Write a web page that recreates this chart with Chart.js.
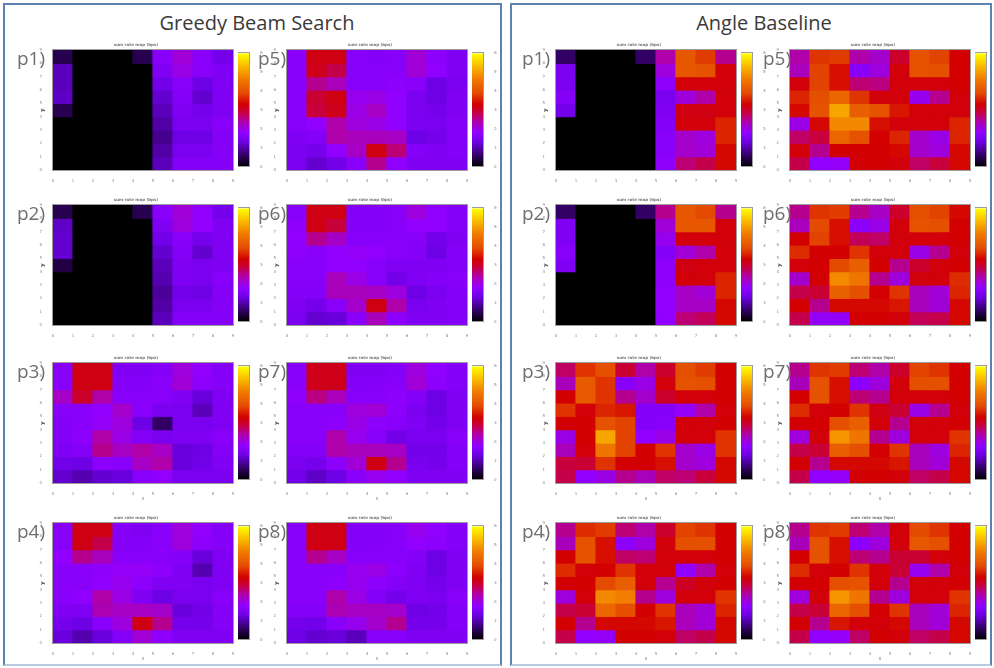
<!DOCTYPE html>
<html><head><meta charset="utf-8">
<script src="https://cdn.jsdelivr.net/npm/chart.js@4.4.0/dist/chart.umd.min.js"></script>
<style>
body{margin:0;background:#fff;width:994px;height:668px;overflow:hidden;position:relative;font-family:"Open Sans",sans-serif}
.panel{position:absolute;border:2px solid #5b83b0;border-bottom-color:#b9cbe0;box-sizing:border-box}
.ptitle{position:absolute;font-size:20px;line-height:24px;color:#3a3a3a;white-space:nowrap;transform:translateX(-50%)}
.plab{position:absolute;font-size:19px;line-height:19px;color:#6e6e6e;z-index:5;white-space:nowrap}
canvas{position:absolute}
</style></head><body>
<div class="panel" style="left:3px;top:3px;width:499px;height:663px"></div>
<div class="panel" style="left:510px;top:3px;width:482px;height:663px"></div>
<div class="ptitle" style="left:257px;top:11px">Greedy Beam Search</div>
<div class="ptitle" style="left:764px;top:11px">Angle Baseline</div>
<script>
// ---- data (values as % of colour-bar maximum), rows listed top to bottom ----
const xTicks = ['0','1','2','3','4','5','6','7','8','9'];
const yTicks = ['0','1','2','3','4','5','6','7','8','9'];
const cbTicks = ['0','1000','2000','3000','4000','5000','6000'];
const panelTitles = ['Greedy Beam Search','Angle Baseline'];
const plotLabels = ['p1)','p2)','p3)','p4)','p5)','p6)','p7)','p8)'];
const mapTitle = 'sum rate map (bps)';

const greedyP1 = [
 [8,0,0,0,8,28,35,28,24],
 [18,0,0,0,0,26,33,28,26],
 [18,0,0,0,0,23,28,22,26],
 [19,0,0,0,0,20,27,20,26],
 [8,0,0,0,0,18,26,24,26],
 [0,0,0,0,0,16,25,25,28],
 [0,0,0,0,0,14,22,22,27],
 [0,0,0,0,0,16,25,25,27],
 [0,0,0,0,0,18,27,27,27]];
const greedyP2 = [
 [8,0,0,0,8,28,35,30,24],
 [19,0,0,0,0,26,34,30,26],
 [20,0,0,0,0,23,28,24,26],
 [20,0,0,0,0,20,27,20,26],
 [7,0,0,0,0,18,26,25,26],
 [0,0,0,0,0,17,26,25,28],
 [0,0,0,0,0,15,23,22,27],
 [0,0,0,0,0,16,25,25,27],
 [0,0,0,0,0,18,27,27,27]];
const greedyP3 = [
 [28,53,53,26,26,27,34,30,27],
 [28,53,53,27,27,28,35,29,27],
 [37,50,40,28,28,28,26,21,26],
 [28,28,30,36,28,25,25,18,26],
 [27,28,31,34,22,10,25,25,26],
 [27,29,40,33,27,25,26,26,28],
 [26,27,42,37,40,37,21,22,27],
 [23,22,29,28,37,40,21,23,26],
 [20,17,20,21,28,30,25,25,25]];
const greedyP4 = [
 [28,53,53,27,26,28,34,30,27],
 [28,53,47,27,27,28,34,29,27],
 [30,42,38,28,28,28,27,21,26],
 [28,28,29,31,31,29,26,17,26],
 [28,28,30,32,29,26,26,25,26],
 [28,30,40,33,26,22,25,25,28],
 [26,26,39,37,37,36,21,23,27],
 [24,22,28,34,53,42,24,24,27],
 [21,17,21,27,35,29,26,26,26]];
const greedyP5 = [
 [28,53,53,28,27,28,35,29,26],
 [28,52,47,28,28,28,35,30,26],
 [28,42,38,28,28,29,28,22,25],
 [28,49,53,32,33,30,25,22,26],
 [28,48,52,33,37,30,25,24,26],
 [28,30,40,34,33,30,25,25,27],
 [26,27,40,38,38,37,22,24,27],
 [25,24,30,37,53,44,27,26,27],
 [25,20,23,28,42,30,26,26,26]];
const greedyP6 = [
 [28,53,53,27,27,28,34,30,27],
 [29,53,48,27,27,28,30,30,27],
 [30,42,37,28,28,28,28,23,26],
 [29,28,30,31,30,28,27,22,27],
 [28,28,30,30,28,26,26,26,27],
 [28,28,38,33,28,23,26,27,28],
 [27,27,38,38,37,34,22,25,27],
 [26,24,28,36,53,40,25,26,27],
 [25,20,21,28,38,29,26,26,27]];
const greedyP7 = [
 [28,52,52,26,26,27,34,30,27],
 [28,52,52,27,27,28,35,29,27],
 [29,43,38,28,28,29,27,22,26],
 [28,28,28,34,35,29,25,22,26],
 [28,28,29,33,29,28,26,23,26],
 [28,28,40,32,28,23,25,25,28],
 [27,27,40,38,38,37,23,23,27],
 [25,24,29,35,53,42,25,24,27],
 [23,19,22,28,32,30,26,26,26]];
const greedyP8 = [
 [28,53,53,27,27,28,32,30,27],
 [28,53,53,27,27,28,30,29,27],
 [28,42,37,28,28,28,27,22,26],
 [28,28,28,32,33,29,26,22,26],
 [28,28,29,32,29,27,26,24,26],
 [28,28,40,33,27,24,26,25,28],
 [27,27,39,37,37,36,22,23,27],
 [24,23,28,32,36,42,24,24,27],
 [22,20,21,18,28,28,26,26,26]];

const angleP1 = [
 [10,0,0,0,10,40,68,63,42],
 [25,0,0,0,0,34,68,67,54],
 [25,0,0,0,0,29,54,54,54],
 [27,0,0,0,0,25,34,40,54],
 [23,0,0,0,0,26,53,53,54],
 [0,0,0,0,0,27,54,54,60],
 [0,0,0,0,0,28,36,34,60],
 [0,0,0,0,0,28,36,35,56],
 [0,0,0,0,0,29,44,47,56]];
const angleP2 = [
 [10,0,0,0,10,42,68,65,42],
 [26,0,0,0,0,35,68,68,54],
 [26,0,0,0,0,32,54,54,54],
 [28,0,0,0,0,27,35,40,54],
 [26,0,0,0,0,29,53,54,54],
 [0,0,0,0,0,29,54,54,60],
 [0,0,0,0,0,30,37,35,60],
 [0,0,0,0,0,30,37,37,56],
 [0,0,0,0,0,30,44,46,56]];
const angleP3 = [
 [45,62,66,49,40,50,66,63,55],
 [38,69,62,28,33,54,67,66,55],
 [55,69,62,42,36,50,54,54,55],
 [62,54,60,58,27,27,31,40,54],
 [55,55,67,64,27,28,54,54,55],
 [33,55,85,64,30,33,54,54,62],
 [38,54,76,64,55,62,36,33,62],
 [48,49,62,55,55,57,36,34,56],
 [47,30,33,42,38,45,44,48,56]];
const angleP4 = [
 [42,61,63,44,40,50,64,62,55],
 [38,67,57,29,34,54,66,66,55],
 [55,67,57,45,44,54,54,54,55],
 [61,54,55,62,54,54,30,40,54],
 [55,55,65,70,54,42,51,54,55],
 [34,54,80,78,42,34,54,54,62],
 [47,49,72,66,55,62,38,35,60],
 [55,42,56,56,56,58,38,35,56],
 [47,30,31,55,55,54,45,47,56]];
const angleP5 = [
 [40,62,63,40,36,50,67,64,55],
 [38,64,57,28,34,54,67,66,55],
 [54,64,57,44,43,54,54,54,55],
 [60,66,72,62,54,54,32,42,54],
 [56,67,85,70,67,58,54,54,54],
 [33,56,80,80,57,54,54,54,60],
 [45,48,72,67,55,60,36,33,60],
 [54,42,55,55,55,56,36,34,56],
 [47,30,31,55,55,54,45,48,56]];
const angleP6 = [
 [42,62,63,42,37,50,66,64,56],
 [38,65,57,29,33,54,67,66,55],
 [55,64,57,46,45,54,54,54,55],
 [61,55,55,62,54,54,33,42,54],
 [54,55,65,70,55,42,50,54,55],
 [36,55,80,76,42,34,54,54,61],
 [47,49,71,66,55,62,38,35,60],
 [55,42,56,56,56,58,38,35,56],
 [47,31,31,55,55,54,46,47,56]];
const angleP7 = [
 [42,62,63,44,40,50,64,62,55],
 [38,67,57,29,34,54,66,66,55],
 [55,67,57,44,42,54,54,54,55],
 [61,54,55,62,53,49,33,42,54],
 [55,55,66,70,54,42,54,54,55],
 [34,54,82,76,42,34,54,54,62],
 [47,49,70,66,55,62,38,34,60],
 [55,42,56,56,56,58,38,35,56],
 [47,30,31,55,55,54,45,47,56]];
const angleP8 = [
 [42,62,63,44,40,54,65,62,55],
 [38,67,57,29,34,54,68,66,55],
 [55,67,57,44,42,49,49,54,55],
 [61,54,55,62,54,49,32,40,54],
 [55,55,66,67,54,42,54,54,55],
 [34,54,82,76,42,34,54,54,62],
 [47,49,72,66,55,62,38,35,60],
 [55,42,58,54,54,56,38,35,56],
 [47,30,31,45,55,54,45,47,56]];

// ---- layout / style ----
const plotLefts = [[53, 287], [556, 790]];
const plotTops = [50, 205, 363, 523];
const PW = 180, PH = 120, NROWS = 9;
const labelLefts = [[17, 258], [522, 763]];
const cmapStops = [[0,0,0,0],[0.10,50,0,100],[0.22,110,0,230],[0.30,145,0,255],[0.40,175,0,170],[0.48,200,0,60],[0.55,210,0,0],[0.65,228,75,0],[0.78,242,125,0],[0.90,250,195,0],[1,255,255,0]];
function cmap(t){
  t = Math.max(0, Math.min(1, t));
  for (let i = 1; i < cmapStops.length; i++){
    const a = cmapStops[i-1], b = cmapStops[i];
    if (t <= b[0]){
      const f = (t - a[0]) / (b[0] - a[0]);
      const c = [1,2,3].map(k => Math.round(a[k] + (b[k]-a[k])*f));
      return 'rgb(' + c.join(',') + ')';
    }
  }
  return 'rgb(255,255,0)';
}
const frame = {id:'frame', afterDatasetsDraw(chart){
  const {ctx, chartArea:a} = chart; ctx.save();
  ctx.strokeStyle = '#9c9c9c'; ctx.lineWidth = 1;
  ctx.strokeRect(Math.round(a.left)-0.5, Math.round(a.top)-0.5, Math.round(a.right-a.left)+1, Math.round(a.bottom-a.top)+1);
  ctx.restore();
}};
const tickFont = {size:4, family:'DejaVu Sans'};
const tickColor = '#8a8a8a';

const panels = [
  [greedyP1, greedyP2, greedyP3, greedyP4, greedyP5, greedyP6, greedyP7, greedyP8],
  [angleP1, angleP2, angleP3, angleP4, angleP5, angleP6, angleP7, angleP8]
];

function addCanvas(left, top, w, h){
  const cv = document.createElement('canvas');
  cv.width = w; cv.height = h;
  cv.style.left = left + 'px'; cv.style.top = top + 'px';
  cv.style.width = w + 'px'; cv.style.height = h + 'px';
  document.body.appendChild(cv);
  return cv;
}

function makeHeat(vals, pl, pt, showXTitle){
  const cv = addCanvas(pl - 14, pt - 12, PW + 17, PH + 32);
  const datasets = vals.map((rowVals, r) => ({
    data: rowVals.map((v, c) => ({x: c + 0.5, y: [NROWS - 1 - r, NROWS - r]})),
    backgroundColor: rowVals.map(v => cmap(v / 100)),
    borderWidth: 0, inflateAmount: 0.6, grouped: false, barPercentage: 1, categoryPercentage: 1
  }));
  new Chart(cv, {
    type: 'bar',
    data: {datasets},
    options: {
      responsive: false, animation: false, events: [],
      layout: {padding: {left: 0, right: 3, top: 0, bottom: 0}},
      plugins: {
        legend: {display: false}, tooltip: {enabled: false},
        title: {display: true, text: mapTitle, color: '#777', font: {size: 4, lineHeight: 1.25, family:'DejaVu Sans'}, padding: {top: 4, bottom: 3}}
      },
      scales: {
        x: {type: 'linear', min: 0, max: 9, offset: false,
            grid: {display: false, offset: false}, border: {display: false},
            ticks: {stepSize: 1, font: tickFont, color: tickColor, padding: 1, maxRotation: 0, autoSkip: false,
                    callback: (v, i) => xTicks[i]},
            title: {display: showXTitle, text: 'x', font: {size: 5}, color: '#777', padding: 1},
            afterFit: s => { s.height = 20; }},
        y: {type: 'linear', min: 0, max: 9,
            grid: {display: false}, border: {display: false},
            ticks: {stepSize: 1, font: tickFont, color: tickColor, padding: 3, autoSkip: false,
                    callback: (v, i) => yTicks[i]},
            title: {display: true, text: 'y', font: {size: 6, weight: 'bold'}, color: '#333', padding: 0},
            afterFit: s => { s.width = 14; }}
      }
    },
    plugins: [frame]
  });
}

function makeBar(cl, pt){
  const cv = addCanvas(cl, pt - 2, 11 + 14, PH + 4);
  new Chart(cv, {
    type: 'bar',
    data: {labels: ['cb'], datasets: [{
      data: [[0, cbTicks.length - 1]], borderWidth: 0, barPercentage: 1, categoryPercentage: 1,
      backgroundColor: (ctx) => {
        const a = ctx.chart.chartArea; if (!a) return '#000';
        const g = ctx.chart.ctx.createLinearGradient(0, a.bottom, 0, a.top);
        for (let i = 0; i <= 40; i++) g.addColorStop(i / 40, cmap(i / 40));
        return g;
      }}]},
    options: {
      responsive: false, animation: false, events: [],
      layout: {padding: {left: 0, right: 0, top: 2, bottom: 2}},
      plugins: {legend: {display: false}, tooltip: {enabled: false}},
      scales: {
        x: {display: false},
        y: {position: 'right', min: 0, max: cbTicks.length - 1,
            grid: {display: false}, border: {display: false},
            ticks: {stepSize: 1, font: tickFont, color: tickColor, padding: 3, callback: (v, i) => cbTicks[i]},
            afterFit: s => { s.width = 14; }}
      }
    },
    plugins: [frame]
  });
}

panels.forEach((maps, p) => {
  maps.forEach((vals, k) => {
    const col = k < 4 ? 0 : 1, row = k % 4;
    const pl = plotLefts[p][col], pt = plotTops[row];
    makeHeat(vals, pl, pt, row >= 2);
    makeBar(pl + PW + 5, pt);
    const lab = document.createElement('div');
    lab.className = 'plab';
    lab.textContent = plotLabels[k];
    lab.style.left = labelLefts[p][col] + 'px';
    lab.style.top = (pt - 1) + 'px';
    document.body.appendChild(lab);
  });
});
</script>
</body></html>
